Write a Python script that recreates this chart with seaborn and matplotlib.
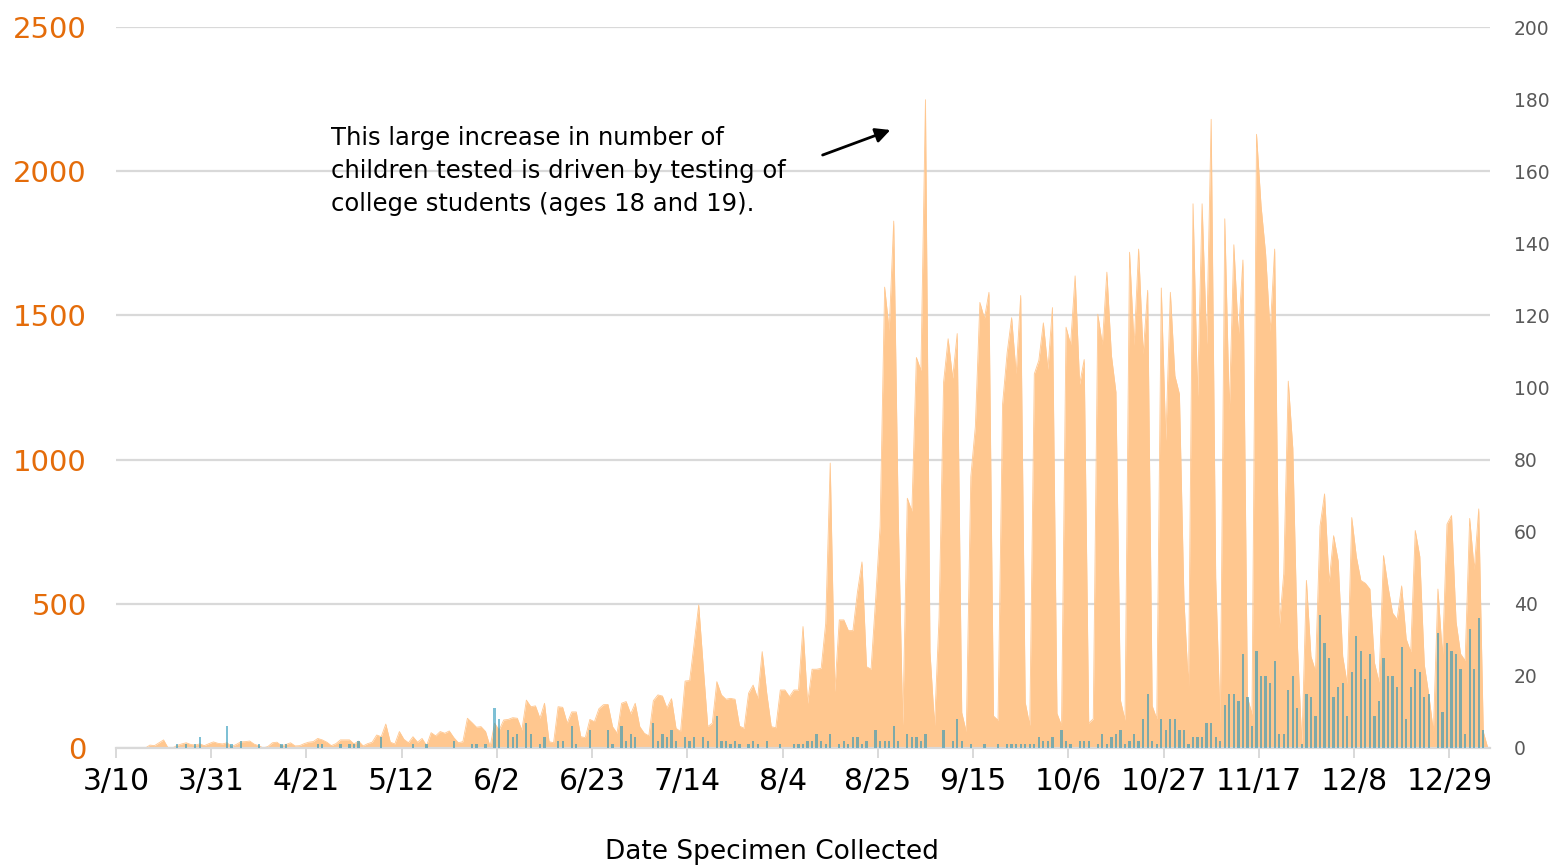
import numpy as np
import pandas as pd
import matplotlib
matplotlib.use("Agg")
import matplotlib.pyplot as plt
import seaborn as sns

# daily values starting 3/10/2020, one row per week
start_date = "2020-03-10"

children_tested = [
    0, 0, 0, 0, 0, 0, 0,
    10, 8, 18, 28, 0, 0, 9,
    14, 18, 12, 10, 14, 8, 15,
    21, 16, 14, 18, 5, 12, 21,
    22, 24, 13, 8, 0, 5, 18,
    20, 8, 12, 18, 7, 8, 15,
    20, 22, 33, 28, 20, 8, 15,
    28, 28, 28, 14, 24, 7, 15,
    20, 45, 39, 83, 20, 14, 57,
    30, 18, 39, 20, 33, 8, 53,
    42, 57, 51, 59, 36, 18, 22,
    103, 88, 72, 74, 57, 5, 86,
    62, 97, 99, 105, 103, 62, 166,
    143, 146, 103, 155, 22, 18, 143,
    141, 86, 125, 125, 39, 36, 99,
    91, 136, 150, 151, 74, 51, 155,
    161, 118, 155, 74, 51, 42, 164,
    184, 180, 138, 171, 68, 57, 232,
    234, 363, 496, 282, 74, 86, 230,
    184, 169, 172, 169, 76, 68, 190,
    218, 172, 334, 190, 74, 70, 201,
    201, 178, 201, 201, 421, 155, 273,
    273, 276, 432, 988, 195, 444, 444,
    407, 407, 540, 645, 282, 273, 513,
    769, 1598, 1447, 1827, 800, 78, 866,
    821, 1354, 1309, 2248, 333, 78, 453,
    1269, 1419, 1282, 1437, 123, 56, 941,
    1114, 1545, 1489, 1580, 111, 96, 1192,
    1369, 1492, 1297, 1569, 158, 78, 1297,
    1344, 1474, 1312, 1527, 120, 78, 1459,
    1399, 1637, 1261, 1347, 86, 101, 1504,
    1399, 1650, 1362, 1234, 165, 96, 1719,
    1396, 1730, 1366, 1587, 146, 101, 1595,
    1065, 1580, 1291, 1227, 513, 206, 1887,
    1219, 1887, 1399, 2180, 589, 78, 1835,
    1167, 1745, 1429, 1692, 176, 116, 2128,
    1880, 1715, 1444, 1730, 416, 604, 1272,
    1039, 363, 10, 581, 318, 266, 769,
    881, 574, 736, 649, 318, 221, 799,
    664, 581, 571, 551, 296, 228, 667,
    559, 468, 446, 562, 378, 333, 754,
    664, 288, 183, 56, 551, 318, 776,
    806, 438, 326, 303, 796, 619, 829,
    56, 0,
]

children_positive = [
    0, 0, 0, 0, 0, 0, 0,
    0, 0, 0, 0, 0, 0, 1,
    0, 1, 0, 1, 3, 0, 0,
    0, 0, 0, 6, 1, 0, 2,
    0, 0, 0, 1, 0, 0, 0,
    0, 1, 1, 0, 0, 0, 0,
    0, 0, 1, 1, 0, 0, 0,
    1, 0, 1, 1, 2, 0, 0,
    0, 0, 3, 0, 0, 0, 0,
    0, 0, 1, 0, 0, 1, 0,
    0, 0, 0, 0, 2, 0, 0,
    0, 1, 1, 0, 1, 0, 11,
    8, 0, 5, 3, 4, 0, 7,
    4, 0, 1, 3, 0, 0, 2,
    2, 0, 6, 1, 0, 0, 5,
    0, 0, 0, 5, 1, 0, 6,
    2, 4, 3, 0, 0, 0, 7,
    2, 4, 3, 5, 2, 0, 3,
    2, 3, 0, 3, 2, 0, 9,
    2, 2, 1, 2, 1, 0, 1,
    2, 1, 0, 2, 0, 0, 1,
    0, 0, 1, 1, 1, 2, 2,
    4, 2, 1, 4, 0, 1, 2,
    1, 3, 3, 1, 2, 0, 5,
    2, 2, 2, 6, 2, 0, 4,
    3, 3, 2, 4, 0, 0, 0,
    5, 0, 2, 8, 2, 0, 1,
    0, 0, 1, 0, 0, 1, 0,
    1, 1, 1, 1, 1, 1, 1,
    3, 2, 2, 3, 0, 5, 2,
    1, 0, 2, 2, 2, 0, 1,
    4, 1, 3, 4, 5, 1, 2,
    4, 2, 8, 15, 2, 1, 8,
    5, 8, 8, 5, 5, 1, 3,
    3, 3, 7, 7, 3, 2, 12,
    15, 15, 13, 26, 14, 6, 27,
    20, 20, 18, 24, 4, 4, 16,
    20, 11, 1, 15, 14, 9, 37,
    29, 25, 14, 17, 18, 9, 21,
    31, 27, 19, 26, 9, 13, 25,
    20, 20, 17, 28, 8, 17, 22,
    21, 14, 15, 0, 32, 10, 29,
    27, 26, 22, 4, 33, 22, 36,
    5, 0,
]

left_ticks = [0, 500, 1000, 1500, 2000, 2500]
right_ticks = [0, 20, 40, 60, 80, 100, 120, 140, 160, 180, 200]
tick_every = 21

note = ("This large increase in number of\n"
        "children tested is driven by testing of\n"
        "college students (ages 18 and 19).")

area_color = "#FFC78F"
bar_color = "#2896B9"
orange = "#E46C0A"
grid_color = "#D9D9D9"

df = pd.DataFrame({
    "day": np.arange(len(children_tested)),
    "date": pd.date_range(start_date, periods=len(children_tested)),
    "tested": children_tested,
    "positive": children_positive,
})

sns.set_style("white")
plt.rcParams["font.family"] = ["DejaVu Sans"]

fig = plt.figure(figsize=(15.52, 8.66), dpi=100)
ax = fig.add_axes([0.0747, 0.1363, 0.8854, 0.8325])

ax.fill_between(df["day"], df["tested"], color=area_color, lw=0, zorder=2)
sns.lineplot(data=df, x="day", y="tested", color=area_color, lw=0.6, ax=ax, zorder=2)

ax2 = ax.twinx()
sns.barplot(data=df, x="day", y="positive", native_scale=True, color=bar_color,
            saturation=1, alpha=0.6, width=0.5, errorbar=None,
            edgecolor="none", linewidth=0, ax=ax2, zorder=3)

ax.set_xlim(-0.5, len(df) - 0.5)
ax.set_ylim(0, 2500)
ax2.set_ylim(0, 200)

tick_days = np.arange(0, len(df) - 7, tick_every)
ax.set_xticks(tick_days - 0.5)
ax.set_xticklabels([f"{d.month}/{d.day}" for d in df["date"].iloc[tick_days]])
ax.set_yticks(left_ticks)
ax2.set_yticks(right_ticks)

ax.set_axisbelow(True)
ax.yaxis.grid(True, color=grid_color, lw=1.6)
ax.xaxis.grid(False)
for s in ["left", "right", "top"]:
    ax.spines[s].set_visible(False)
    ax2.spines[s].set_visible(False)
ax2.spines["bottom"].set_visible(False)
ax.spines["bottom"].set_color(grid_color)
ax.spines["bottom"].set_linewidth(1.6)

ax.tick_params(axis="x", length=7, width=1.4, color=grid_color, pad=7,
               labelsize=21.5, labelcolor="black", bottom=True)
ax.tick_params(axis="y", length=0, pad=21, labelsize=21, labelcolor=orange)
ax2.tick_params(axis="y", length=0, pad=17, labelsize=13.5, labelcolor="#595959")

ax.set_xlabel("")
ax.set_ylabel("")
ax2.set_xlabel("")
ax2.set_ylabel("")

fig.text(772 / 1552, 1 - 852 / 866, "Date Specimen Collected",
         ha="center", va="center", fontsize=19, color="black")

fig.text(331 / 1552, 1 - 171 / 866, note, ha="left", va="center",
         fontsize=17.5, linespacing=1.5, color="black")

ax.annotate("", xy=(893, 866 - 129), xycoords="figure pixels",
            xytext=(820, 866 - 156), textcoords="figure pixels",
            arrowprops=dict(arrowstyle="-|>", color="black", lw=2,
                            mutation_scale=22))

fig.savefig("out.png", dpi=100)
